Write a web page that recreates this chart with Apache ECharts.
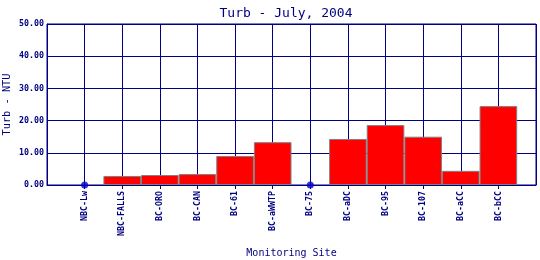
<!DOCTYPE html>
<html>
<head>
<meta charset="utf-8">
<script src="https://cdn.jsdelivr.net/npm/echarts@6/dist/echarts.min.js"></script>
<style>html,body{margin:0;padding:0;background:#fff}#c{width:540px;height:260px}</style>
</head>
<body>
<div id="c"></div>
<script>
const categories = ['', 'NBC-Lw', 'NBC-FALLS', 'BC-ORO', 'BC-CAN', 'BC-61', 'BC-aWWTP', 'BC-75', 'BC-aDC', 'BC-95', 'BC-107', 'BC-aCC', 'BC-bCC', ''];
const turbValues = ['-', '-', 2.8, 3.1, 3.4, 9.0, 13.3, '-', 14.3, 18.6, 15.0, 4.4, 24.5, '-'];
const zeroValues = ['-', 0, '-', '-', '-', '-', '-', 0, '-', '-', '-', '-', '-', '-'];
const yTicks = [0, 10, 20, 30, 40, 50];

const navy = '#000080';
const mono = '"DejaVu Sans Mono", "Liberation Mono", monospace';
const lastIdx = categories.length - 1;
const chart = echarts.init(document.getElementById('c'), null, {renderer: 'canvas'});
chart.setOption({
  animation: false,
  backgroundColor: '#fff',
  title: {
    text: 'Turb - July, 2004',
    left: 281, top: 2, textAlign: 'center',
    textStyle: {fontFamily: mono, fontSize: 13, fontWeight: 'normal', color: navy}
  },
  grid: {left: 47, right: 4, top: 24, bottom: 75, containLabel: false, outerBoundsMode: 'none',
    show: true, borderColor: navy, borderWidth: 1, backgroundColor: '#fff'},
  xAxis: {
    type: 'category',
    data: categories,
    boundaryGap: false,
    name: 'Monitoring Site',
    nameLocation: 'middle',
    nameGap: 63,
    nameMoveOverlap: false,
    nameTextStyle: {fontFamily: mono, fontSize: 10, color: navy},
    axisLine: {lineStyle: {color: navy, width: 1}},
    axisTick: {show: true, interval: (i) => i > 0 && i < lastIdx, length: 4, lineStyle: {color: navy}},
    axisLabel: {interval: 0, rotate: 90, margin: 6, fontFamily: mono, fontSize: 8.3, fontWeight: 'bold', color: navy},
    splitLine: {show: true, interval: 0, lineStyle: {color: navy, width: 1}}
  },
  yAxis: {
    type: 'value',
    min: yTicks[0], max: yTicks[yTicks.length - 1], interval: 10,
    name: 'Turb - NTU',
    nameLocation: 'middle',
    nameGap: 35,
    nameMoveOverlap: false,
    nameTextStyle: {fontFamily: mono, fontSize: 10.3, color: navy},
    axisLine: {show: true, lineStyle: {color: navy}},
    axisTick: {show: false},
    axisLabel: {margin: 3, fontFamily: mono, fontSize: 8.3, fontWeight: 'bold', color: navy,
      formatter: v => v.toFixed(2)},
    splitLine: {show: true, lineStyle: {color: navy, width: 1}}
  },
  series: [
    {
      type: 'bar',
      data: turbValues,
      barWidth: '100%',
      barGap: '-100%',
      itemStyle: {color: '#ff0000', borderColor: '#808080', borderWidth: 1}
    },
    {
      type: 'scatter',
      data: zeroValues,
      symbol: 'circle',
      symbolSize: 7,
      itemStyle: {color: '#0000cc'},
      z: 5
    }
  ]
});
</script>
</body>
</html>
